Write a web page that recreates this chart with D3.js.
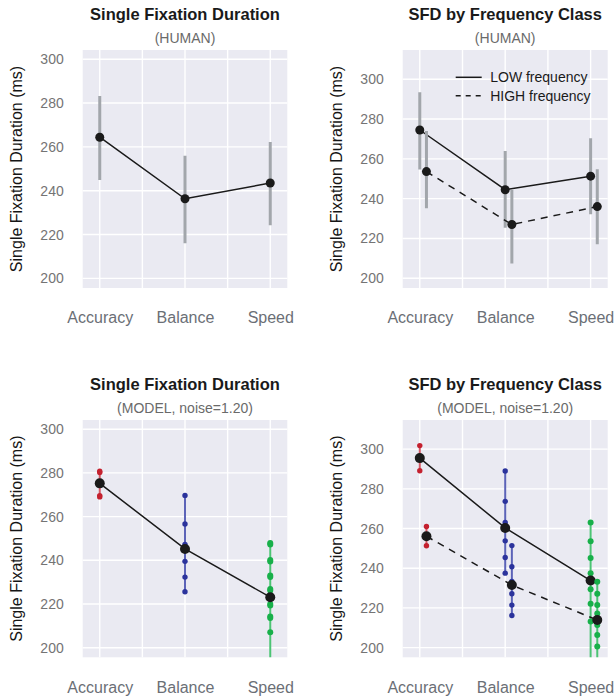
<!DOCTYPE html>
<html>
<head>
<meta charset="utf-8">
<script src="https://cdn.jsdelivr.net/npm/d3@7"></script>
<style>
  body { margin: 0; background: #fff; }
  svg { display: block; font-family: "Liberation Sans", Arial, Helvetica, sans-serif; }
</style>
</head>
<body>
<svg id="chart" width="615" height="698"></svg>
<script>
// ---------------- DATA ----------------
const categories = ["Accuracy", "Balance", "Speed"];
const yTicks = [200, 220, 240, 260, 280, 300];

// Human, overall
const humanMean  = [264.4, 236.3, 243.5];
const humanLower = [244.9, 216.0, 224.2];
const humanUpper = [283.2, 256.0, 262.2];

// Human, by frequency class
const humanLowMean   = [274.5, 244.5, 251.3];
const humanLowLower  = [254.6, 225.4, 232.2];
const humanLowUpper  = [293.5, 264.0, 270.4];
const humanHighMean  = [253.6, 227.0, 236.0];
const humanHighLower = [235.2, 207.4, 217.1];
const humanHighUpper = [274.0, 244.4, 254.8];

// Model (noise=1.20), overall
const modelMean = [275.2, 245.2, 223.1];
const modelRunsAccuracy = [280.8, 280.2, 269.6, 269.0];
const modelRunsBalance  = [269.7, 256.6, 247.3, 246.0, 239.5, 232.3, 225.6];
const modelRunsSpeed    = [247.9, 247.2, 240.1, 239.4, 233.0, 232.3, 226.9, 226.2, 220.0, 219.3, 214.3, 213.6, 207.1, 180.0];

// Model (noise=1.20), by frequency class
const modelLowMean  = [295.5, 260.3, 233.8];
const modelHighMean = [256.1, 231.5, 213.9];
const modelLowRunsAccuracy  = [301.8, 289.1];
const modelLowRunsBalance   = [289.0, 273.7, 263.1, 253.8, 245.4, 237.5];
const modelLowRunsSpeed     = [263.0, 253.6, 245.2, 237.5, 229.4, 222.1, 213.2, 185.0];
const modelHighRunsAccuracy = [261.0, 251.3];
const modelHighRunsBalance  = [251.4, 240.7, 233.3, 227.1, 221.4, 216.2];
const modelHighRunsSpeed    = [233.2, 227.1, 221.4, 217.2, 211.4, 206.3, 200.6, 185.0];

const legendLabels = ["LOW frequency", "HIGH frequency"];
const titles = ["Single Fixation Duration", "SFD by Frequency Class"];
const subtitles = ["(HUMAN)", "(MODEL, noise=1.20)"];
const yLabel = "Single Fixation Duration (ms)";

// ---------------- STYLE ----------------
const catColors = ["#c4212f", "#2b339c", "#18b04a"];
const lineColors = ["#d25a66", "#5c63b8", "#4cc474"];
const bg = "#eaeaf2";
const errGray = "#a2a6ab";

const svg = d3.select("#chart");
let clipId = 0;

function panel(opts) {
  const { left, top, width, height, yDomain } = opts;
  const g = svg.append("g").attr("transform", `translate(${left},${top})`);
  const x = d3.scaleLinear().domain([-0.2, 2.2]).range([0, width]);
  const y = d3.scaleLinear().domain(yDomain).range([height, 0]);

  g.append("rect").attr("width", width).attr("height", height).attr("fill", bg);

  // grid
  const xGrid = [0, 0.5, 1, 1.5, 2];
  g.selectAll(".vg").data(xGrid).join("line")
    .attr("x1", d => x(d)).attr("x2", d => x(d))
    .attr("y1", 0).attr("y2", height)
    .attr("stroke", "#fff").attr("stroke-width", 1.4);
  g.selectAll(".hg").data(yTicks).join("line")
    .attr("x1", 0).attr("x2", width)
    .attr("y1", d => y(d)).attr("y2", d => y(d))
    .attr("stroke", "#fff").attr("stroke-width", 1.4);

  // axes
  const ya = g.append("g").call(d3.axisLeft(y).tickValues(yTicks).tickSize(0).tickPadding(19));
  ya.select(".domain").remove();
  ya.selectAll("text").attr("fill", "#747474").style("font-size", "14px")
    .style("font-family", "'Liberation Sans', Arial, sans-serif");

  const xa = g.append("g").attr("transform", `translate(0,${height})`)
    .call(d3.axisBottom(x).tickValues([0, 1, 2]).tickFormat(i => categories[i]).tickSize(0).tickPadding(24));
  xa.select(".domain").remove();
  xa.selectAll("text").attr("fill", "#6b6f76").style("font-size", "16px")
    .style("font-family", "'Liberation Sans', Arial, sans-serif");

  // y title
  g.append("text")
    .attr("transform", `translate(-66.5,${height / 2}) rotate(-90)`)
    .attr("text-anchor", "middle").attr("dy", "0.35em")
    .attr("fill", "#151515").style("font-size", "16px")
    .text(yLabel);

  // titles
  g.append("text").attr("x", width / 2).attr("y", -30)
    .attr("text-anchor", "middle").attr("fill", "#1a1a1a")
    .style("font-size", "16.5px").style("font-weight", "bold")
    .text(opts.title);
  g.append("text").attr("x", width / 2).attr("y", -7)
    .attr("text-anchor", "middle").attr("fill", "#6a6a6a")
    .style("font-size", "14px")
    .text(opts.subtitle);

  // clip
  const cid = "clip" + (clipId++);
  g.append("clipPath").attr("id", cid).append("rect").attr("width", width).attr("height", height);
  const plot = g.append("g").attr("clip-path", `url(#${cid})`);

  return { g, plot, x, y };
}

function humanSeries(p, mean, lower, upper, offset, dashed) {
  const { plot, x, y } = p;
  const idx = [0, 1, 2];
  plot.selectAll(null).data(idx).join("line")
    .attr("x1", i => x(i + offset)).attr("x2", i => x(i + offset))
    .attr("y1", i => y(lower[i])).attr("y2", i => y(upper[i]))
    .attr("stroke", errGray).attr("stroke-width", 3);
  plot.append("path")
    .datum(idx)
    .attr("d", d3.line().x(i => x(i + offset)).y(i => y(mean[i])))
    .attr("fill", "none").attr("stroke", "#1a1a1a").attr("stroke-width", 1.5)
    .attr("stroke-dasharray", dashed ? "7,6" : null);
  plot.selectAll(null).data(idx).join("circle")
    .attr("cx", i => x(i + offset)).attr("cy", i => y(mean[i]))
    .attr("r", 4.5).attr("fill", "#1a1a1a");
}

function modelSeries(p, mean, runs, offset, dashed) {
  const { plot, x, y } = p;
  const idx = [0, 1, 2];
  runs.forEach((r, i) => {
    const ext = d3.extent(r);
    plot.append("line")
      .attr("x1", x(i + offset)).attr("x2", x(i + offset))
      .attr("y1", y(ext[0])).attr("y2", y(ext[1]))
      .attr("stroke", lineColors[i]).attr("stroke-width", 2);
    plot.selectAll(null).data(r).join("circle")
      .attr("cx", x(i + offset)).attr("cy", d => y(d))
      .attr("r", i === 2 ? 3 : 2.7).attr("fill", catColors[i]);
  });
  plot.append("path")
    .datum(idx)
    .attr("d", d3.line().x(i => x(i + offset)).y(i => y(mean[i])))
    .attr("fill", "none").attr("stroke", "#1a1a1a").attr("stroke-width", 1.5)
    .attr("stroke-dasharray", dashed ? "7,6" : null);
  plot.selectAll(null).data(idx).join("circle")
    .attr("cx", i => x(i + offset)).attr("cy", i => y(mean[i]))
    .attr("r", 5).attr("fill", "#1a1a1a");
}

const off = 0.078;

// Top-left
const p1 = panel({ left: 82.7, top: 50, width: 204.6, height: 238, yDomain: [195.6, 304.2],
  title: titles[0], subtitle: subtitles[0] });
humanSeries(p1, humanMean, humanLower, humanUpper, 0, false);

// Top-right
const p2 = panel({ left: 402.7, top: 50, width: 205, height: 238, yDomain: [195.1, 314.7],
  title: titles[1], subtitle: subtitles[0] });
humanSeries(p2, humanLowMean, humanLowLower, humanLowUpper, 0, false);
humanSeries(p2, humanHighMean, humanHighLower, humanHighUpper, off, true);

// legend
const lg = p2.g.append("g").attr("transform", "translate(53,27.3)");
[0, 1].forEach(k => {
  lg.append("line").attr("x1", 0).attr("x2", 26).attr("y1", k * 18.4).attr("y2", k * 18.4)
    .attr("stroke", "#1a1a1a").attr("stroke-width", 1.5)
    .attr("stroke-dasharray", k === 1 ? "5,5" : null);
  lg.append("text").attr("x", 34.5).attr("y", k * 18.4).attr("dy", "0.35em")
    .attr("fill", "#1a1a1a").style("font-size", "14px").text(legendLabels[k]);
});

// Bottom-left
const p3 = panel({ left: 82.7, top: 420, width: 204.6, height: 237.3, yDomain: [195.6, 304.2],
  title: titles[0], subtitle: subtitles[1] });
modelSeries(p3, modelMean, [modelRunsAccuracy, modelRunsBalance, modelRunsSpeed], 0, false);

// Bottom-right
const p4 = panel({ left: 402.7, top: 420, width: 205, height: 237.3, yDomain: [195.1, 314.7],
  title: titles[1], subtitle: subtitles[1] });
modelSeries(p4, modelLowMean, [modelLowRunsAccuracy, modelLowRunsBalance, modelLowRunsSpeed], 0, false);
modelSeries(p4, modelHighMean, [modelHighRunsAccuracy, modelHighRunsBalance, modelHighRunsSpeed], off, true);
</script>
</body>
</html>
